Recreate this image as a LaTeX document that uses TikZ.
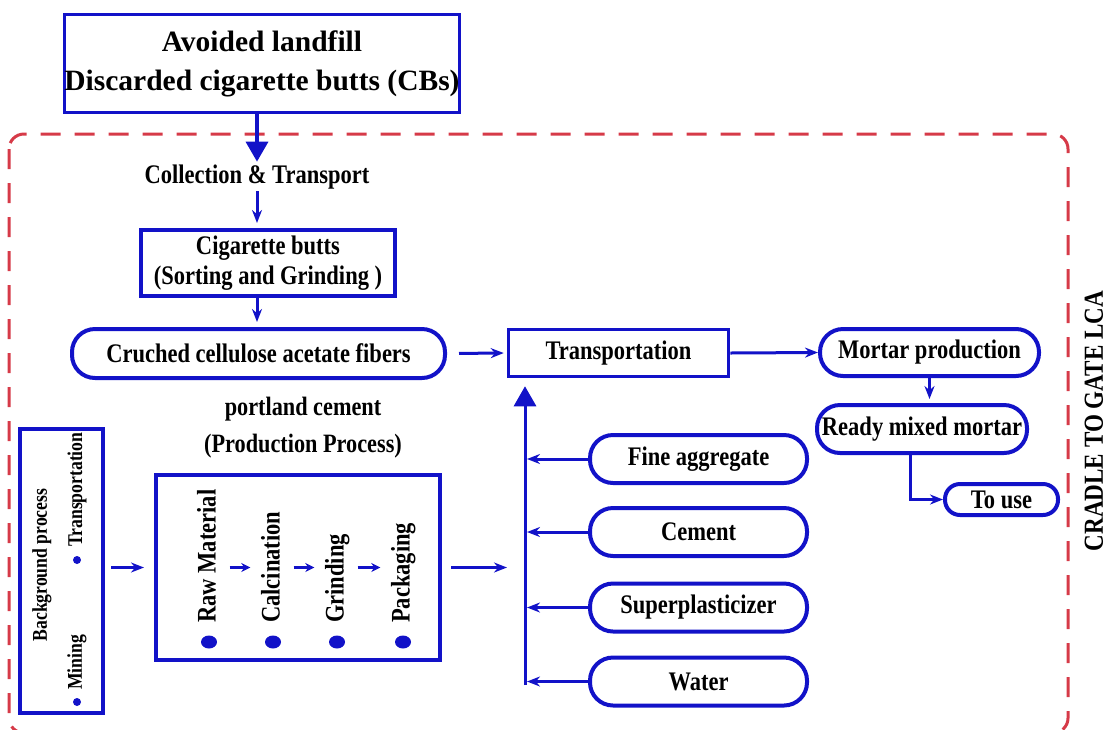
\documentclass[tikz,border=0pt]{standalone}
\usepackage{fontspec}
\setmainfont{Liberation Serif}
\newfontfamily\narrowserif{Liberation Serif}[FakeStretch=0.84]
\usetikzlibrary{arrows.meta}
\definecolor{flowblue}{RGB}{18,18,200}
\definecolor{gatered}{RGB}{214,58,72}
\tikzset{
  txt/.style={font=\narrowserif\fontsize{26.8}{30}\selectfont\bfseries, inner sep=0pt, align=center},
  small/.style={font=\narrowserif\fontsize{21}{24}\selectfont\bfseries},
  bx/.style={txt, draw=flowblue, line width=3pt},
  pill/.style={bx, line width=4pt, rounded corners=23pt, minimum width=217pt, minimum height=48pt},
  steptext/.style={txt, rotate=90, anchor=west, text height=19pt, text depth=6pt},
  arr/.style={draw=flowblue, line width=3pt, -{Stealth[length=13pt,width=10pt]}},
  smallarr/.style={draw=flowblue, line width=2.5pt, -{Stealth[length=9pt,width=9pt]}},
  bigarr/.style={draw=flowblue, line width=3.5pt, -{Triangle[length=20pt,width=22pt]}},
}
\begin{document}
\begin{tikzpicture}[x=1pt,y=-1pt]
  \clip (0,0) rectangle (1110,729);
  \draw[gatered, line width=3pt, dash pattern=on 20pt off 14pt, rounded corners=15pt]
    (9,134) rectangle (1068,733);
  \node[txt, font=\narrowserif\fontsize{27.5}{32}\selectfont\bfseries, rotate=90] (lca) at (1094,421) {CRADLE TO GATE LCA};

  \node[bx, minimum width=393pt, minimum height=98pt, font=\fontsize{29.5}{39}\selectfont\bfseries]
    (landfill) at (262,63.5) {Avoided landfill\\Discarded cigarette butts (CBs)};
  \node[txt] (collect) at (257,177) {Collection \& Transport};
  \node[bx, line width=4pt, minimum width=254pt, minimum height=66pt]
    (cig) at (268,263) {Cigarette butts\\(Sorting and Grinding )};
  \node[pill, minimum width=373pt, minimum height=49pt] (fibers) at (258.5,353.5) {Cruched cellulose acetate fibers};
  \node[bx, line width=3.5pt, minimum width=220pt, minimum height=47pt] (transport) at (618.5,353) {Transportation};
  \node[pill, minimum width=219pt, minimum height=47pt] (mortar) at (929.5,352.5) {Mortar production};
  \node[pill, minimum width=210pt] (ready) at (922,429) {Ready mixed mortar};
  \node[pill, minimum width=113pt, minimum height=31pt, rounded corners=15pt] (touse) at (1001.5,499.5) {To use};

  \node[pill] (fine) at (698.5,459) {Fine aggregate};
  \node[pill] (cement) at (698.5,532) {Cement};
  \node[pill] (super) at (698.5,607.5) {Superplasticizer};
  \node[pill] (water) at (698.5,681.5) {Water};
  \coordinate (bus) at (525,685);

  \node[txt, font=\narrowserif\fontsize{26.5}{37}\selectfont\bfseries] (pclabel) at (303,428) {portland cement\\(Production Process)};
  \node[bx, line width=4pt, minimum width=284pt, minimum height=185pt] (prod) at (298,567.5) {};
  \foreach \x/\step/\name in {209/Raw Material/raw, 273/Calcination/calc, 337/Grinding/grind, 403/Packaging/pack} {
    \node[steptext] (\name) at (\x,623) {\step};
    \fill[flowblue] (\x,642) ellipse [x radius=8pt, y radius=6.5pt];
  }

  \node[bx, line width=4.5pt, minimum width=83pt, minimum height=284pt] (bg) at (61.5,571) {};
  \node[txt, small, rotate=90] (bgname) at (42,565) {Background process};
  \node[txt, small, rotate=90, anchor=west] (bgtrans) at (77,547) {Transportation};
  \node[txt, small, rotate=90, anchor=west] (bgmine) at (77,690) {Mining};
  \fill[flowblue] (77,560) circle (4pt) (77,702) circle (4pt);

  \draw[bigarr, shorten >=3pt] (landfill.south -| collect) -- (collect.north);
  \draw[arr, shorten <=2pt, shorten >=5pt] (collect.south) -- (cig.north -| collect);
  \draw[arr, shorten >=5pt] (cig.south -| collect) -- (fibers.north -| collect);
  \draw[arr, shorten <=12pt, shorten >=3pt] (fibers.east) -- (transport.west);
  \draw[arr] (transport.east) -- (mortar.west);
  \draw[arr, shorten >=4pt] (mortar.south) -- (mortar.south |- ready.north);
  \draw[arr] ([xshift=-12pt]ready.south) |- (touse.west);

  \draw[bigarr, line width=3pt, shorten >=8pt] (bus) -- (transport.south -| bus);
  \foreach \n in {fine,cement,super,water}
    \draw[arr, shorten >=2pt] (\n.west) -- (\n.west -| bus);

  \draw[smallarr, shorten <=8pt, shorten >=10pt] (raw.south |- prod) -- (calc.north |- prod);
  \draw[smallarr, shorten <=8pt, shorten >=10pt] (calc.south |- prod) -- (grind.north |- prod);
  \draw[smallarr, shorten <=8pt, shorten >=10pt] (grind.south |- prod) -- (pack.north |- prod);
  \draw[arr, shorten <=6pt, shorten >=10pt] (bg.east |- prod) -- (prod.west);
  \draw[arr, shorten <=9pt, shorten >=18pt] (prod.east) -- (prod.east -| bus);
\end{tikzpicture}
\end{document}
